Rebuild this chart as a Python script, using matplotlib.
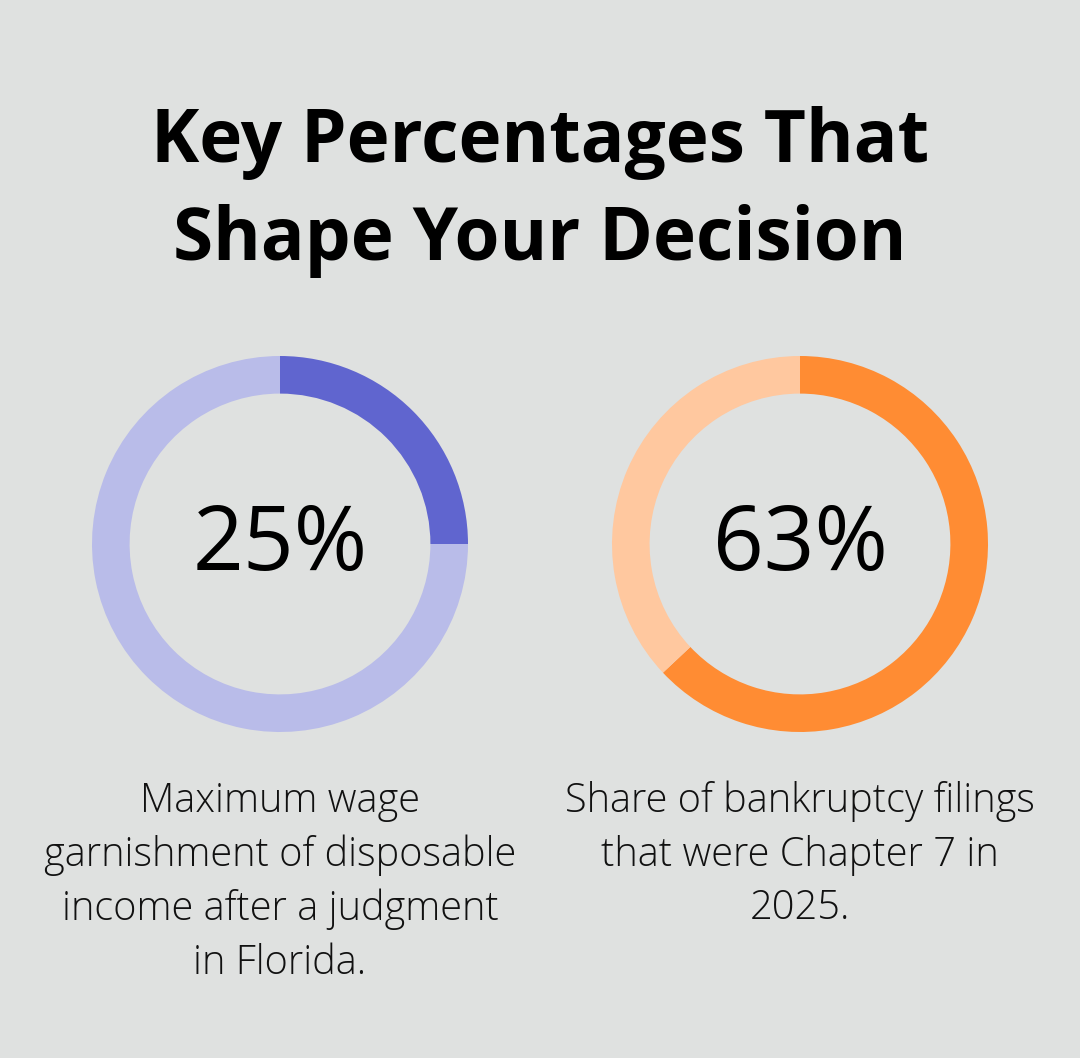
import matplotlib.pyplot as plt

# data
values = [25, 63]
labels = ['25%', '63%']
captions = ['Maximum wage\ngarnishment of disposable\nincome after a judgment\nin Florida.',
            'Share of bankruptcy filings\nthat were Chapter 7 in\n2025.']
dark_colors = ['#6065CF', '#FF8C33']
light_colors = ['#B9BCE9', '#FFC89F']
title = 'Key Percentages That\nShape Your Decision'

bg = '#DFE1E0'
W, H = 1080, 1058
fig = plt.figure(figsize=(W / 100, H / 100), dpi=100, facecolor=bg)

fam = ['Open Sans', 'DejaVu Sans']

fig.text(0.5, 1 - 192 / H, title, ha='center', va='center', fontsize=52.4,
         fontweight='bold', family=fam, linespacing=1.42, color='#000000')

centers_x = [280, 800]
cy = 544
r = 188
for i in range(2):
    cx = centers_x[i]
    ax = fig.add_axes([(cx - r) / W, (H - cy - r) / H, 2 * r / W, 2 * r / H])
    ax.pie([values[i], 100 - values[i]], colors=[dark_colors[i], light_colors[i]],
           startangle=90, counterclock=False, radius=1,
           wedgeprops=dict(width=0.2, linewidth=0))
    ax.set_xlim(-1, 1)
    ax.set_ylim(-1, 1)
    ax.set_aspect('equal')
    ax.axis('off')
    ax.text(0, -0.015, labels[i], ha='center', va='center', fontsize=64,
            family=fam, color='#000000')
    fig.text(cx / W, 1 - 781 / H, captions[i], ha='center', va='top', fontsize=28.6,
             family=fam, fontweight='light', linespacing=1.4, color='#111111')

fig.savefig('out.png', dpi=100, facecolor=bg)
